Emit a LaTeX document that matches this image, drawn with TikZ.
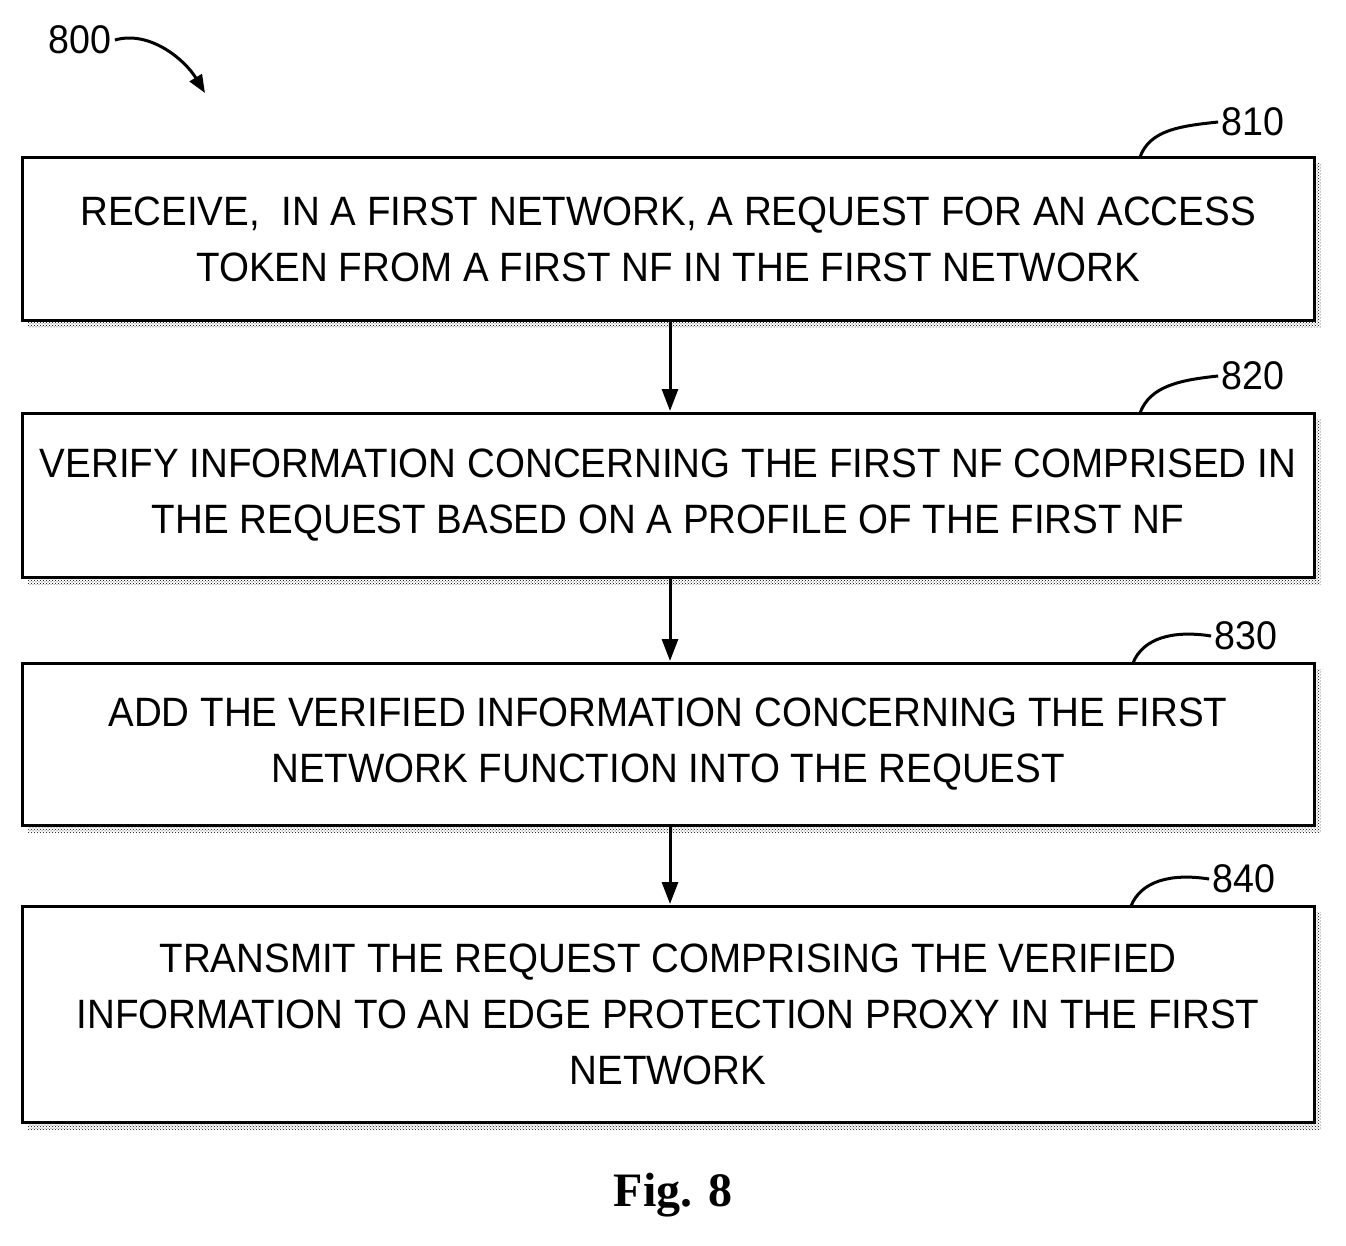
\documentclass[tikz,border=0pt]{standalone}
\usepackage{fontspec}
\setmainfont{Liberation Sans}[FakeStretch=0.94]
\newfontfamily\figfont{Liberation Serif}
\usetikzlibrary{arrows.meta,patterns}
\begin{document}
\begin{tikzpicture}[x=1pt,y=-1pt,
  box/.style={draw=black,line width=3pt,fill=white},
  shadow/.style={pattern=crosshatch dots,pattern color=black},
  txt/.style={align=center,font=\fontsize{41}{56}\selectfont},
  lbl/.style={font=\fontsize{40}{42}\selectfont},
  arr/.style={line width=3pt,-{Triangle[length=22pt,width=16pt]}},
  lead/.style={line width=3pt}]
\useasboundingbox (0,0) rectangle (1346,1245);
% shadows
\foreach \t/\b in {157/320,413/577,663/825,906/1122}{
  \fill[shadow] (28,\t+6) rectangle (1321,\b+7);
}
\draw[box] (22,157) rectangle (1314,320);
\draw[box] (22,413) rectangle (1314,577);
\draw[box] (22,663) rectangle (1314,825);
\draw[box] (22,906) rectangle (1314,1122);
\node[txt] (t1) at (668,239) {RECEIVE,\ \ IN A FIRST NETWORK, A REQUEST FOR AN ACCESS\\TOKEN FROM A FIRST NF IN THE FIRST NETWORK};
\node[txt] (t2) at (668,495) {VERIFY INFORMATION CONCERNING THE FIRST NF COMPRISED IN\\THE REQUEST BASED ON A PROFILE OF THE FIRST NF};
\node[txt] (t3) at (668,744) {ADD THE VERIFIED INFORMATION CONCERNING THE FIRST\\NETWORK FUNCTION INTO THE REQUEST};
\node[txt] (t4) at (668,1014) {TRANSMIT THE REQUEST COMPRISING THE VERIFIED\\INFORMATION TO AN EDGE PROTECTION PROXY IN THE FIRST\\NETWORK};
\coordinate (a1s) at (670,322); \coordinate (a1e) at (670,411);
\coordinate (a2s) at (670,579); \coordinate (a2e) at (670,661);
\coordinate (a3s) at (670,827); \coordinate (a3e) at (670,904);
\draw[arr] (a1s) -- (a1e);
\draw[arr] (a2s) -- (a2e);
\draw[arr] (a3s) -- (a3e);
% labels
\node[lbl] (l810) at (1253,122) {810};
\node[lbl] (l820) at (1253,376) {820};
\node[lbl] (l830) at (1246,636) {830};
\node[lbl] (l840) at (1244,879) {840};
\draw[lead] (1140,157) .. controls (1150,130) and (1180,126) .. (l810.west);
\draw[lead] (1140,413) .. controls (1150,386) and (1180,380) .. (l820.west);
\draw[lead] (1133,663) .. controls (1143,638) and (1173,630) .. (l830.west);
\draw[lead] (1131,906) .. controls (1141,881) and (1171,873) .. (l840.west);
\node[lbl] (l800) at (80,40) {800};
\coordinate (p800) at (205,93);
\draw[lead,-{Triangle[length=18pt,width=14pt]}] (l800.east) .. controls (150,30) and (185,60) .. (p800);
\node[font=\figfont\bfseries\fontsize{48}{50}\selectfont] (fig) at (673,1195) {Fig. 8};
\end{tikzpicture}
\end{document}
